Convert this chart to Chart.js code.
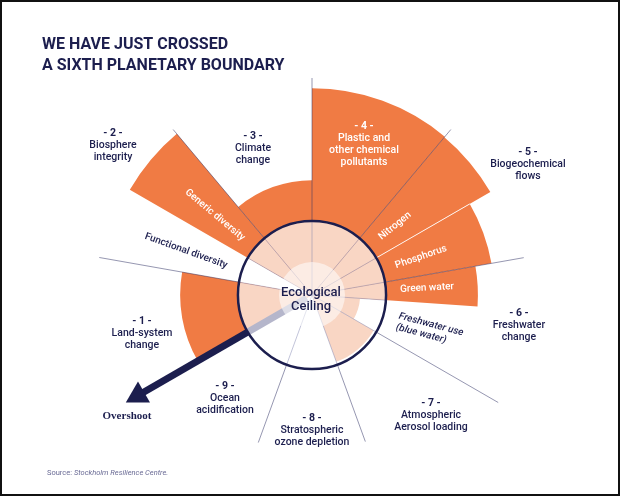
<!DOCTYPE html>
<html>
<head>
<meta charset="utf-8">
<script src="https://cdn.jsdelivr.net/npm/chart.js@4.4.0/dist/chart.umd.min.js"></script>
<style>
  html, body { margin: 0; padding: 0; background: #fff; overflow: hidden; }
  #wrap { position: relative; width: 620px; height: 497px; }
</style>
</head>
<body>
<div id="wrap"><canvas id="boundaryChart" width="620" height="497"></canvas></div>
<script>
// sectors clockwise from 12 o'clock
const sectors = ['Novel entities', 'Nitrogen', 'Phosphorus', 'Green water', 'Blue water',
    'Aerosol loading', 'Ozone depletion', 'Ocean acidification', 'Land-system change',
    'Functional diversity', 'Generic diversity', 'Climate change'];
// width of each sector in degrees
const sectorAngles = [40, 20, 20, 14, 26, 40, 40, 40, 40, 20, 20, 40];
// control variable as a multiple of the safe boundary (1 = ecological ceiling)
const boundaryStatus = [2.79, 2.78, 2.46, 2.24, 0.65, 0.96, 0, 0, 1.78, 0, 2.84, 1.55];

const ORANGE = '#f07b44';
const PEACH = '#f9d6c4';
const NAVY = '#1c1e4e';

const sectorLabels = [
    { num: '- 4 -', lines: ['Plastic and', 'other chemical', 'pollutants'], x: 364, y: 126, color: '#ffffff' },
    { num: '- 5 -', lines: ['Biogeochemical', 'flows'], x: 528, y: 152 },
    { num: '- 6 -', lines: ['Freshwater', 'change'], x: 519, y: 313 },
    { num: '- 7 -', lines: ['Atmospheric', 'Aerosol loading'], x: 431, y: 403 },
    { num: '- 8 -', lines: ['Stratospheric', 'ozone depletion'], x: 312, y: 418 },
    { num: '- 9 -', lines: ['Ocean', 'acidification'], x: 225, y: 386 },
    { num: '- 1 -', lines: ['Land-system', 'change'], x: 142, y: 321 },
    { num: '- 2 -', lines: ['Biosphere', 'integrity'], x: 113, y: 133 },
    { num: '- 3 -', lines: ['Climate', 'change'], x: 253, y: 136 }
];

const subLabels = [
    { text: 'Generic diversity', x: 215, y: 215, rot: 40, color: '#ffffff' },
    { text: 'Functional diversity', x: 186, y: 251, rot: 20, color: NAVY },
    { text: 'Nitrogen', x: 395, y: 226, rot: -39, color: '#ffffff' },
    { text: 'Phosphorus', x: 421, y: 257, rot: -19, color: '#ffffff' },
    { text: 'Green water', x: 427, y: 288, rot: -3, color: '#ffffff' }
];

const rad = d => d * Math.PI / 180;

const boundaryDecor = {
    id: 'boundaryDecor',
    afterDatasetsDraw(chart) {
        const ctx = chart.ctx;
        const scale = chart.scales.r;
        const cx = scale.xCenter, cy = scale.yCenter;
        const ceil = scale.getDistanceFromCenterForValue(1);
        const pt = (deg, d) => [cx + d * Math.sin(rad(deg)), cy - d * Math.cos(rad(deg))];

        // sector edges
        const edges = [];
        let acc = 0;
        sectorAngles.forEach(a => { edges.push(acc); acc += a; });

        ctx.save();
        ctx.lineWidth = 1;
        // light lines inside the ceiling
        ctx.strokeStyle = 'rgba(120,124,170,0.45)';
        edges.forEach(e => {
            if (e === 240) return;
            const p = pt(e, ceil);
            ctx.beginPath(); ctx.moveTo(cx, cy); ctx.lineTo(p[0], p[1]); ctx.stroke();
        });
        // outer divider lines between the nine boundaries
        const reach = { 0: 217, 40: 216, 80: 215, 120: 215, 160: 156, 200: 157, 280: 216, 320: 216 };
        ctx.strokeStyle = 'rgba(45,48,100,0.5)';
        Object.keys(reach).forEach(k => {
            const a = pt(+k, ceil), b = pt(+k, reach[k]);
            ctx.beginPath(); ctx.moveTo(a[0], a[1]); ctx.lineTo(b[0], b[1]); ctx.stroke();
        });
        // white split nitrogen / phosphorus
        ctx.strokeStyle = 'rgba(255,255,255,0.85)';
        const w1 = pt(60, ceil), w2 = pt(60, scale.getDistanceFromCenterForValue(boundaryStatus[2]));
        ctx.beginPath(); ctx.moveTo(w1[0], w1[1]); ctx.lineTo(w2[0], w2[1]); ctx.stroke();

        // overshoot band inside the circle
        const ang = 240;
        ctx.strokeStyle = '#b5b6cb';
        ctx.lineWidth = 7;
        const b1 = pt(ang, 6), b2 = pt(ang, ceil);
        ctx.beginPath(); ctx.moveTo(b1[0], b1[1]); ctx.lineTo(b2[0], b2[1]); ctx.stroke();

        // hub
        ctx.fillStyle = 'rgba(255,255,255,0.55)';
        ctx.beginPath(); ctx.arc(cx, cy, 33, 0, Math.PI * 2); ctx.fill();

        // ecological ceiling
        ctx.strokeStyle = NAVY;
        ctx.lineWidth = 2.5;
        ctx.beginPath(); ctx.arc(cx, cy, ceil, 0, Math.PI * 2); ctx.stroke();

        // overshoot arrow
        ctx.strokeStyle = NAVY;
        ctx.lineWidth = 7;
        const s1 = pt(ang, ceil), s2 = pt(ang, 197);
        ctx.beginPath(); ctx.moveTo(s1[0], s1[1]); ctx.lineTo(s2[0], s2[1]); ctx.stroke();
        const tip = pt(ang, 215), base = pt(ang, 194);
        const px = Math.cos(rad(ang)), py = Math.sin(rad(ang));
        ctx.fillStyle = NAVY;
        ctx.beginPath();
        ctx.moveTo(tip[0], tip[1]);
        ctx.lineTo(base[0] + 12 * px, base[1] + 12 * py);
        ctx.lineTo(base[0] - 12 * px, base[1] - 12 * py);
        ctx.closePath(); ctx.fill();
        ctx.restore();
    },
    afterDraw(chart) {
        const ctx = chart.ctx;
        ctx.save();
        ctx.textBaseline = 'middle';

        // title
        ctx.fillStyle = NAVY;
        ctx.textAlign = 'left';
        ctx.font = "bold 16px Roboto";
        ctx.fillText('WE HAVE JUST CROSSED', 42, 45);
        ctx.fillText('A SIXTH PLANETARY BOUNDARY', 42, 66);

        // boundary labels
        ctx.textAlign = 'center';
        sectorLabels.forEach(l => {
            ctx.fillStyle = l.color || NAVY;
            ctx.font = "bold 10.5px Roboto";
            ctx.fillText(l.num, l.x, l.y);
            ctx.font = "500 10.5px Roboto";
            l.lines.forEach((t, i) => ctx.fillText(t, l.x, l.y + 12 * (i + 1)));
        });

        // rotated sub labels
        subLabels.forEach(l => {
            ctx.save();
            ctx.translate(l.x, l.y);
            ctx.rotate(rad(l.rot));
            ctx.fillStyle = l.color;
            ctx.font = "500 10px Roboto";
            ctx.fillText(l.text, 0, 0);
            ctx.restore();
        });
        ctx.save();
        ctx.translate(399, 316);
        ctx.rotate(rad(15));
        ctx.fillStyle = NAVY;
        ctx.textAlign = 'left';
        ctx.font = "italic 500 10px Roboto";
        ctx.fillText('Freshwater use', 0, 0);
        ctx.fillText('(blue water)', 0, 11.5);
        ctx.restore();

        // centre
        ctx.fillStyle = NAVY;
        ctx.font = "500 13px Roboto";
        ctx.fillText('Ecological', 311, 293);
        ctx.fillText('Ceiling', 311, 307);

        ctx.font = "bold 11px 'Liberation Serif'";
        ctx.fillText('Overshoot', 127, 416);

        // source
        ctx.textAlign = 'left';
        ctx.fillStyle = '#6b6c96';
        ctx.font = "7.5px Roboto";
        ctx.fillText('Source: ', 47, 473);
        const sw = ctx.measureText('Source: ').width;
        ctx.font = "italic 7.5px Roboto";
        ctx.fillText('Stockholm Resilience Centre.', 47 + sw, 473);

        // frame
        ctx.strokeStyle = '#111';
        ctx.lineWidth = 2;
        ctx.strokeRect(1, 1, 618, 494);
        ctx.restore();
    }
};

const ctx = document.getElementById('boundaryChart').getContext('2d');
const boundaryChart = new Chart(ctx, {
    type: 'polarArea',
    data: {
        labels: sectors,
        datasets: [{
            label: 'Within the boundary',
            data: boundaryStatus.map(v => Math.min(v, 1)),
            backgroundColor: PEACH,
            angle: sectorAngles,
            borderWidth: 0
        }, {
            label: 'Transgressed',
            data: boundaryStatus.map(v => (v > 1 ? v : 0)),
            backgroundColor: ORANGE,
            angle: sectorAngles,
            borderWidth: 0
        }]
    },
    options: {
        responsive: false,
        animation: false,
        layout: { padding: { left: 112, right: 108, top: 95, bottom: 2 } },
        scales: {
            r: {
                min: 0,
                max: 2.7,
                startAngle: 0,
                ticks: { display: false },
                grid: { display: false },
                angleLines: { display: false },
                pointLabels: { display: false }
            }
        },
        plugins: {
            legend: { display: false },
            tooltip: { enabled: false }
        }
    },
    plugins: [boundaryDecor]
});
</script>
</body>
</html>
